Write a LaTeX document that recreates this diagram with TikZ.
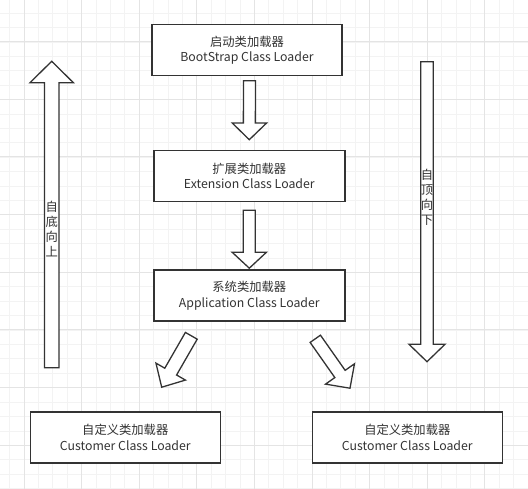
\documentclass[tikz,border=0pt]{standalone}
\usepackage{fontspec}
\newfontfamily\cjkfont{Noto Sans CJK SC}
\usetikzlibrary{calc}
\definecolor{gridminor}{RGB}{243, 243, 243}
\definecolor{gridmajor}{RGB}{228, 228, 228}
\definecolor{inkgray}{RGB}{51, 51, 51}
\tikzset{
    loaderbox/.style={draw=inkgray, line width=1.6pt, fill=white, minimum width=190pt, minimum height=51pt, inner sep=0pt, align=center, text=inkgray, font=\cjkfont\fontsize{12.3}{15.5}\selectfont},
    fatarrow/.style={draw=inkgray, line width=1.3pt, fill=white, line join=miter},
    dirlabel/.style={inner sep=0pt, align=center, text=inkgray, font=\cjkfont\fontsize{12.3}{15}\selectfont},
    minorgrid/.style={draw=gridminor, line width=0.8pt},
    majorgrid/.style={draw=gridmajor, line width=0.8pt},
}
% block arrow: start, tip, shaft half width, head half width, head length
\newcommand{\blockarrow}[5]{%
    \coordinate (headbase) at ($(#2)!#5!(#1)$);
    \draw[fatarrow] ($(#1)!#3!90:(#2)$) -- ($(headbase)!#3!90:(#2)$) -- ($(headbase)!#4!90:(#2)$) -- (#2)
        -- ($(headbase)!#4!-90:(#2)$) -- ($(headbase)!#3!-90:(#2)$) -- ($(#1)!#3!-90:(#2)$) -- cycle;
}

\begin{document}
\begin{tikzpicture}[x=1pt, y=-1pt]
    \useasboundingbox (0,0) rectangle (528,489);
    \fill[white] (0,0) rectangle (528,489);

    % Grid
    \foreach \i in {0,...,36} \draw[minorgrid] ({9.5+14.4*\i},0) -- ({9.5+14.4*\i},489);
    \foreach \j in {-1,...,33} \draw[minorgrid] (0,{13.3+14.4*\j}) -- (528,{13.3+14.4*\j});
    \foreach \i in {0,...,8} \draw[majorgrid] ({24+57.6*\i},0) -- ({24+57.6*\i},489);
    \foreach \j in {0,...,7} \draw[majorgrid] (0,{41.7+57.6*\j}) -- (528,{41.7+57.6*\j});

    % Loaders
    \node[loaderbox] (boot) at (247, 50) {启动类加载器\\BootStrap Class Loader};
    \node[loaderbox, minimum width=191pt] (ext) at (249.3, 176) {扩展类加载器\\Extension Class Loader};
    \node[loaderbox, minimum width=191pt] (app) at (249.3, 295.5) {系统类加载器\\Application Class Loader};
    \node[loaderbox] (custleft) at (125.3, 437.5) {自定义类加载器\\Customer Class Loader};
    \node[loaderbox] (custright) at (407.3, 437.5) {自定义类加载器\\Customer Class Loader};

    % Arrow ends
    \coordinate (bootout) at ($(boot.south)+(2.5,4.5)$);
    \coordinate (extin) at ($(ext.north)+(0,-10)$);
    \coordinate (extout) at ($(ext.south)+(0,8)$);
    \coordinate (appin) at ($(app.north)+(0,-1)$);
    \coordinate (appoutleft) at ($(app.south)+(-58,14)$);
    \coordinate (custleftin) at ($(custleft.north)+(36.4,-24)$);
    \coordinate (appoutright) at ($(app.south)+(66,17)$);
    \coordinate (custrightin) at ($(custright.north)+(-57.3,-23)$);
    \coordinate (upstart) at (51.7, 367.7);
    \coordinate (upend) at (51.7, 61.3);
    \coordinate (downstart) at (427, 61.7);
    \coordinate (downend) at (427, 361.7);

    % Block arrows
    \blockarrow{bootout}{extin}{6pt}{17.2pt}{16.7pt}
    \blockarrow{extout}{appin}{6pt}{17.2pt}{16pt}
    \blockarrow{appoutleft}{custleftin}{6.8pt}{17pt}{18pt}
    \blockarrow{appoutright}{custrightin}{6.3pt}{17.7pt}{17.4pt}
    \blockarrow{upstart}{upend}{7.3pt}{21.7pt}{21.4pt}
    \blockarrow{downstart}{downend}{6.2pt}{18pt}{17.4pt}

    % Direction labels
    \node[dirlabel] (uplabel) at (51.7, 229.2) {自\\底\\向\\上};
    \node[dirlabel] (downlabel) at (427, 197.5) {自\\顶\\向\\下};
\end{tikzpicture}
\end{document}
